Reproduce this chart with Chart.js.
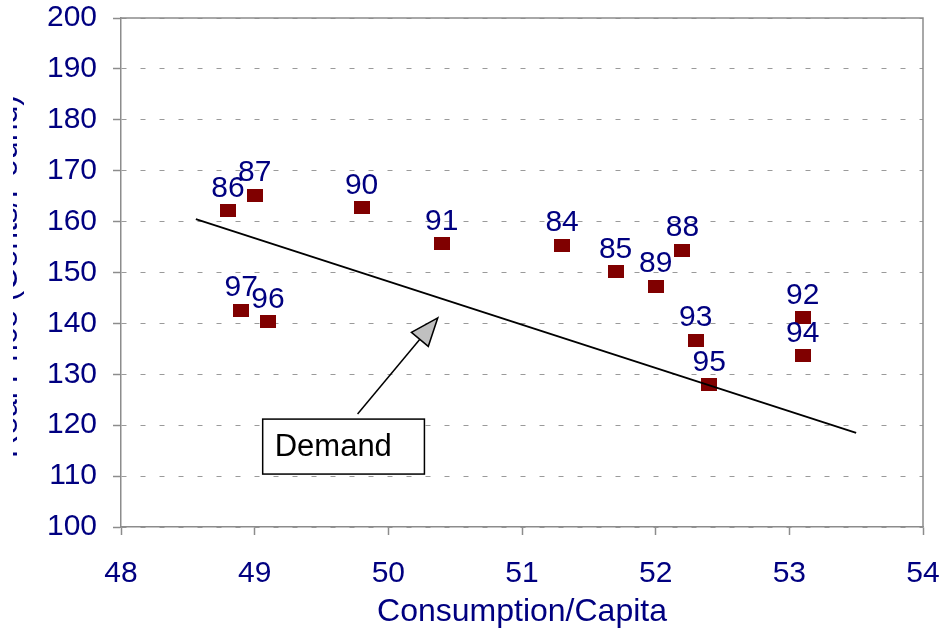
<!DOCTYPE html>
<html><head><meta charset="utf-8">
<script src="https://cdn.jsdelivr.net/npm/chart.js@4.4.1/dist/chart.umd.min.js"></script>
<style>html,body{margin:0;padding:0;background:#fff;}#wrap{width:948px;height:632px;}</style>
</head><body><div id="wrap"><canvas id="c" width="948" height="632"></canvas></div>
<script>
// ---- data ----
const yearLabels  = ['84','85','86','87','88','89','90','91','92','93','94','95','96','97'];
const consumption = [51.3, 51.7, 48.8, 49.0, 52.2, 52.0, 49.8, 50.4, 53.1, 52.3, 53.1, 52.4, 49.1, 48.9];
const realPrice   = [155.4,150.1,162.1,165.2,154.4,147.3,162.7,155.6,141.1,136.7,133.6,127.9,140.3,142.6];
const demandX = [48.56, 53.5];
const demandY = [160.5, 118.5];
const xTickValues = [48, 49, 50, 51, 52, 53, 54];
const yTickValues = [100, 110, 120, 130, 140, 150, 160, 170, 180, 190, 200];
const demandLabel = 'Demand';
const arrowFrom = [49.77, 122.2];
const arrowTo   = [50.37, 141.1];
const boxFrom   = [49.06, 121.2];
const boxTo     = [50.27, 110.4];
const xTitle = 'Consumption/Capita';
const yTitle = 'Real Price (Cents/Pound)';

// ---- styling ----
const NAVY = '#000080';
const FONT = '"Liberation Sans", Arial, sans-serif';
const marker = document.createElement('canvas');
marker.width = 16; marker.height = 13;
(function(){const g = marker.getContext('2d'); g.fillStyle = '#800000'; g.fillRect(0,0,16,13);})();

const labelPlugin = {
  id: 'labels',
  afterDatasetsDraw(chart) {
    const ctx = chart.ctx;
    const meta = chart.getDatasetMeta(1);
    ctx.save();
    ctx.font = '30px ' + FONT;
    ctx.fillStyle = NAVY;
    ctx.textAlign = 'center';
    ctx.textBaseline = 'alphabetic';
    meta.data.forEach((pt, i) => ctx.fillText(yearLabels[i], pt.x, pt.y - 14));
    ctx.restore();
  }
};

const extrasPlugin = {
  id: 'extras',
  afterDraw(chart) {
    const ctx = chart.ctx, xs = chart.scales.x, ys = chart.scales.y, a = chart.chartArea;
    ctx.save();
    // top/right frame
    ctx.strokeStyle = '#8c8c8c'; ctx.lineWidth = 1.5;
    ctx.beginPath();
    ctx.moveTo(a.left, a.top); ctx.lineTo(a.right, a.top); ctx.lineTo(a.right, a.bottom);
    ctx.stroke();
    // arrow
    const x1 = xs.getPixelForValue(arrowFrom[0]), y1 = ys.getPixelForValue(arrowFrom[1]);
    const x2 = xs.getPixelForValue(arrowTo[0]),   y2 = ys.getPixelForValue(arrowTo[1]);
    const ang = Math.atan2(y2 - y1, x2 - x1);
    const hl = 28, hw = 11;
    const bx = x2 - hl * Math.cos(ang), by = y2 - hl * Math.sin(ang);
    ctx.strokeStyle = '#000'; ctx.lineWidth = 1.5;
    ctx.beginPath(); ctx.moveTo(x1, y1); ctx.lineTo(bx, by); ctx.stroke();
    ctx.beginPath();
    ctx.moveTo(x2, y2);
    ctx.lineTo(bx + hw * Math.sin(ang), by - hw * Math.cos(ang));
    ctx.lineTo(bx - hw * Math.sin(ang), by + hw * Math.cos(ang));
    ctx.closePath();
    ctx.fillStyle = '#c0c0c0'; ctx.fill(); ctx.stroke();
    // box
    const bx1 = xs.getPixelForValue(boxFrom[0]), by1 = ys.getPixelForValue(boxFrom[1]);
    const bx2 = xs.getPixelForValue(boxTo[0]),   by2 = ys.getPixelForValue(boxTo[1]);
    ctx.fillStyle = '#fff';
    ctx.fillRect(bx1, by1, bx2 - bx1, by2 - by1);
    ctx.lineWidth = 1.5; ctx.strokeStyle = '#000';
    ctx.strokeRect(bx1, by1, bx2 - bx1, by2 - by1);
    ctx.fillStyle = '#000';
    ctx.font = '31px ' + FONT;
    ctx.textAlign = 'left'; ctx.textBaseline = 'middle';
    ctx.fillText(demandLabel, bx1 + 12, (by1 + by2) / 2 + 1);
    // y title (clipped like the reference)
    ctx.beginPath(); ctx.rect(13, 0, 30, chart.height); ctx.clip();
    ctx.translate(17, (a.top + a.bottom) / 2 + 4);
    ctx.rotate(-Math.PI / 2);
    ctx.font = '32px ' + FONT;
    ctx.fillStyle = NAVY;
    ctx.textAlign = 'center'; ctx.textBaseline = 'alphabetic';
    ctx.fillText(yTitle, 0, 0);
    ctx.restore();
  }
};

new Chart(document.getElementById('c'), {
  type: 'scatter',
  data: {
    datasets: [
      {
        type: 'line',
        data: demandX.map((x, i) => ({x, y: demandY[i]})),
        borderColor: '#000', borderWidth: 1.8, pointRadius: 0, fill: false, tension: 0
      },
      {
        data: consumption.map((x, i) => ({x, y: realPrice[i]})),
        pointStyle: marker, pointRadius: 8, pointHoverRadius: 8,
        backgroundColor: '#800000', borderColor: '#800000'
      }
    ]
  },
  options: {
    responsive: false, animation: false, devicePixelRatio: 1,
    layout: { padding: { left: 0, top: 18, right: 25, bottom: 0 } },
    plugins: { legend: { display: false }, tooltip: { enabled: false } },
    scales: {
      x: {
        type: 'linear', min: 48, max: 54,
        afterBuildTicks(s) { s.ticks = xTickValues.map(v => ({value: v})); },
        afterFit(s) { s.height = 105; s.paddingLeft = 0; s.paddingRight = 0; },
        ticks: { color: NAVY, font: { size: 30, family: FONT }, padding: 21, maxRotation: 0 },
        grid: { drawOnChartArea: false, color: '#8c8c8c', tickLength: 8, tickWidth: 1.5 },
        border: { color: '#8c8c8c', width: 1.5 },
        title: { display: true, text: xTitle, color: NAVY, font: { size: 32, family: FONT }, padding: { top: 0, bottom: 1 } }
      },
      y: {
        type: 'linear', min: 100, max: 200,
        afterBuildTicks(s) { s.ticks = yTickValues.map(v => ({value: v})); },
        afterFit(s) { s.width = 121; s.paddingTop = 0; s.paddingBottom = 0; },
        ticks: { color: NAVY, font: { size: 30, family: FONT }, padding: 16 },
        grid: { color: '#9a9a9a', lineWidth: 1, tickLength: 8, tickColor: '#8c8c8c', tickWidth: 1.5, tickBorderDash: [] },
        border: { color: '#8c8c8c', width: 1.5, dash: [5, 14] }
      }
    }
  },
  plugins: [labelPlugin, extrasPlugin]
});
</script></body></html>
